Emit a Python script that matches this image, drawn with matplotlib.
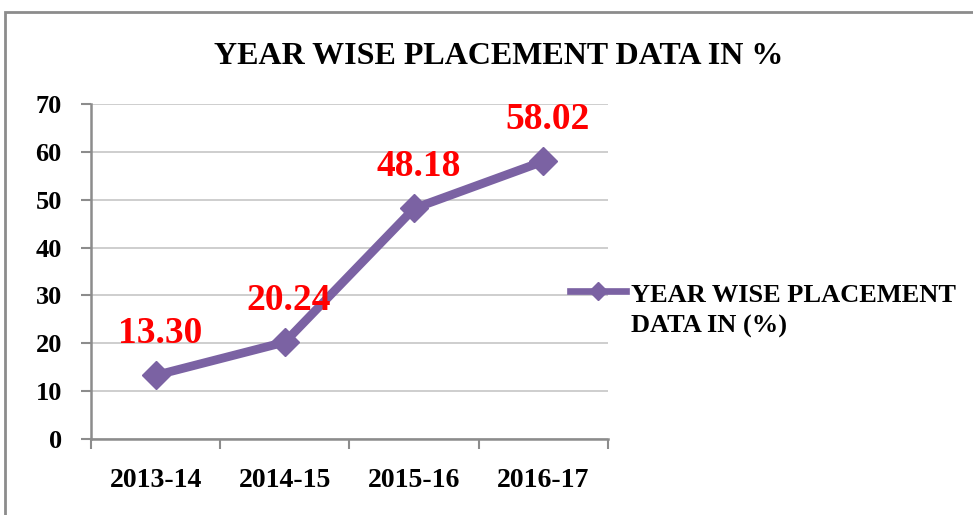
import matplotlib
matplotlib.use("Agg")
import matplotlib.pyplot as plt
from matplotlib.lines import Line2D
from matplotlib.patches import Rectangle

categories = ["2013-14", "2014-15", "2015-16", "2016-17"]
values = [13.30, 20.24, 48.18, 58.02]
value_labels = ["13.30", "20.24", "48.18", "58.02"]
yticks = [0, 10, 20, 30, 40, 50, 60, 70]
title = "YEAR WISE PLACEMENT DATA IN %"
legend_label = "YEAR WISE PLACEMENT\nDATA IN (%)"

W, H = 973, 515
fig = plt.figure(figsize=(W / 100, H / 100), dpi=100)
plt.rcParams['font.family'] = ['Liberation Serif', 'DejaVu Serif']

purple = "#7B62A3"
gray = "#8c8c8c"

ax = fig.add_axes([91 / W, 1 - 439 / H, (608 - 91) / W, (439 - 104) / H])
x = list(range(len(categories)))
ax.plot(x, values, color=purple, lw=6.3, marker="D", ms=14, mfc=purple, mec=purple,
        solid_joinstyle="round", zorder=3)

for xi, v, lab in zip(x, values, value_labels):
    ax.annotate(lab, (xi, v), xytext=(3, 30), textcoords="offset points",
                ha="center", va="center", color="red", fontsize=27, fontweight="bold")

ax.set_xlim(-0.5, len(categories) - 0.5)
ax.set_ylim(0, 70)
ax.set_yticks(yticks)
ax.set_yticklabels([str(t) for t in yticks], fontsize=19, fontweight="bold")
ax.set_xticks(x)
ax.set_xticklabels(categories, fontsize=20, fontweight="bold")
ax.set_xticks([i - 0.5 for i in range(len(categories) + 1)], minor=True)
ax.tick_params(axis="x", which="major", length=0, pad=21)
ax.tick_params(axis="x", which="minor", length=7, width=1.5, color=gray)
ax.tick_params(axis="y", length=7, width=1.5, color=gray, pad=14)
ax.grid(axis="y", color="#c6c6c6", lw=1.2)
ax.set_axisbelow(True)
for s in ["top", "right"]:
    ax.spines[s].set_visible(False)
for s in ["left", "bottom"]:
    ax.spines[s].set_color(gray)
    ax.spines[s].set_linewidth(1.8)

# title
fig.text(499 / W, 1 - 57 / H, title, ha="center", va="center", fontsize=23, fontweight="bold")

# legend (manual)
ly = 1 - 291 / H
fig.add_artist(Line2D([570 / W, 626 / W], [ly, ly], transform=fig.transFigure,
                      color=purple, lw=4.8))
fig.add_artist(Line2D([598 / W], [ly], transform=fig.transFigure, marker="D", ms=9,
                      color=purple, lw=0))
fig.text(631 / W, 1 - 311 / H, legend_label, ha="left", va="center", fontsize=19,
         fontweight="bold", linespacing=1.45)

# outer frame
fig.add_artist(Rectangle((5 / W, -0.05), 1.2, 1 - 12 / H + 0.05, transform=fig.transFigure,
                         fill=False, edgecolor=gray, lw=2, clip_on=False))

fig.savefig("out.png", dpi=100)
